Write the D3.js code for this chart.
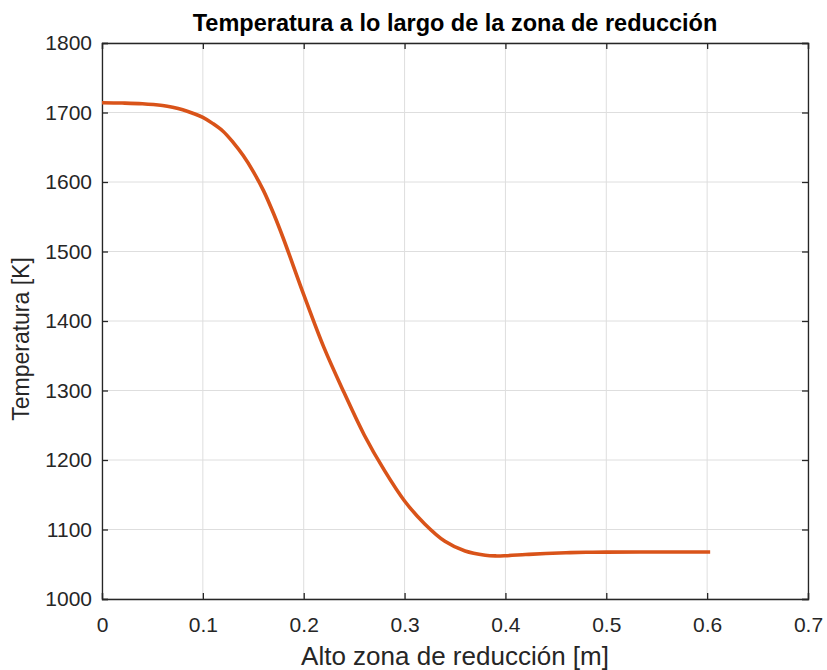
<!DOCTYPE html>
<html>
<head>
<meta charset="utf-8">
<script src="https://cdn.jsdelivr.net/npm/d3@7"></script>
<style>
	body { margin: 0; background: #fff; }
	svg { display: block; font-family: "Liberation Sans", Arial, sans-serif; }
</style>
</head>
<body>
<div class="container"></div>
<script>
	"use strict";

	// height along the reduction zone [m]
	var aAlto = [0, 0.02, 0.04, 0.06, 0.07, 0.08, 0.09, 0.1, 0.11, 0.12, 0.13, 0.14, 0.15, 0.16, 0.17,
		0.18, 0.2, 0.22, 0.24, 0.26, 0.28, 0.3, 0.32, 0.34, 0.36, 0.38, 0.39, 0.4, 0.42, 0.44, 0.46,
		0.48, 0.5, 0.55, 0.603];
	// temperature [K]
	var aTemp = [1714, 1713.6, 1712.6, 1710, 1707.5, 1704, 1699, 1693, 1684, 1673, 1657, 1638, 1615, 1588, 1555,
		1518, 1438, 1362, 1297, 1236, 1185, 1141, 1108, 1083, 1069, 1063, 1062, 1062.3, 1064, 1065.5, 1066.5,
		1067.2, 1067.5, 1067.6, 1067.6];

	var aXTicks = [0, 0.1, 0.2, 0.3, 0.4, 0.5, 0.6, 0.7];
	var aYTicks = [1000, 1100, 1200, 1300, 1400, 1500, 1600, 1700, 1800];

	var iWidth = 827;
	var iHeight = 670;
	var oMargin = { top: 43, right: 19, bottom: 71, left: 102 };
	var iInnerW = iWidth - oMargin.left - oMargin.right;
	var iInnerH = iHeight - oMargin.top - oMargin.bottom;
	var sAxisColor = "#262626";

	var oSVG = d3.select(".container")
		.append("svg")
		.attr("width", iWidth)
		.attr("height", iHeight);

	var x = d3.scaleLinear().domain([0, 0.7]).range([0, iInnerW]);
	var y = d3.scaleLinear().domain([1000, 1800]).range([iInnerH, 0]);

	var g = oSVG.append("g")
		.attr("transform", "translate(" + oMargin.left + "," + oMargin.top + ")");

	// grid
	g.append("g")
		.selectAll("line")
		.data(aXTicks)
		.enter()
		.append("line")
		.attr("x1", function(d) { return x(d); })
		.attr("x2", function(d) { return x(d); })
		.attr("y1", 0)
		.attr("y2", iInnerH)
		.attr("stroke", "#dedede")
		.attr("stroke-width", 1);

	g.append("g")
		.selectAll("line")
		.data(aYTicks)
		.enter()
		.append("line")
		.attr("x1", 0)
		.attr("x2", iInnerW)
		.attr("y1", function(d) { return y(d); })
		.attr("y2", function(d) { return y(d); })
		.attr("stroke", "#dedede")
		.attr("stroke-width", 1);

	// axes, ticks pointing inward on all four sides (box on)
	var fmtX = function(d) { return d === 0 ? "0" : d3.format(".1f")(d); };

	var xBottom = g.append("g")
		.attr("transform", "translate(0," + iInnerH + ")")
		.call(d3.axisBottom(x).tickValues(aXTicks).tickFormat(fmtX).tickSize(-6).tickPadding(18));
	var xTop = g.append("g")
		.call(d3.axisTop(x).tickValues(aXTicks).tickFormat("").tickSize(-6));
	var yLeft = g.append("g")
		.call(d3.axisLeft(y).tickValues(aYTicks).tickFormat(d3.format("d")).tickSize(-6).tickPadding(10));
	var yRight = g.append("g")
		.attr("transform", "translate(" + iInnerW + ",0)")
		.call(d3.axisRight(y).tickValues(aYTicks).tickFormat("").tickSize(-6));

	[xBottom, xTop, yLeft, yRight].forEach(function(oAxis) {
		oAxis.select(".domain").attr("stroke", sAxisColor).attr("stroke-width", 1.3);
		oAxis.selectAll(".tick line").attr("stroke", sAxisColor).attr("stroke-width", 1.3);
		oAxis.selectAll(".tick text")
			.attr("fill", sAxisColor)
			.style("font-size", "21px")
			.style("font-family", "'Liberation Sans', Arial, sans-serif");
	});

	// the data line
	var aPoints = aAlto.map(function(d, i) {
		return { x: d, t: aTemp[i] };
	});

	var line = d3.line()
		.x(function(d) { return x(d.x); })
		.y(function(d) { return y(d.t); })
		.curve(d3.curveCatmullRom.alpha(0.5));

	g.append("path")
		.datum(aPoints)
		.attr("d", line)
		.attr("fill", "none")
		.attr("stroke", "#D95319")
		.attr("stroke-width", 3.6)
		.attr("stroke-linecap", "butt")
		.attr("stroke-linejoin", "round");

	// title and labels
	oSVG.append("text")
		.attr("x", oMargin.left + iInnerW / 2)
		.attr("y", 31)
		.attr("text-anchor", "middle")
		.style("font-size", "23.5px")
		.style("font-weight", "bold")
		.style("fill", "#000")
		.text("Temperatura a lo largo de la zona de reducción");

	oSVG.append("text")
		.attr("x", oMargin.left + iInnerW / 2)
		.attr("y", 665)
		.attr("text-anchor", "middle")
		.style("font-size", "26px")
		.style("fill", sAxisColor)
		.text("Alto zona de reducción [m]");

	oSVG.append("text")
		.attr("transform", "translate(29," + (oMargin.top + iInnerH / 2 + 18) + ") rotate(-90)")
		.attr("text-anchor", "middle")
		.style("font-size", "23px")
		.style("fill", sAxisColor)
		.text("Temperatura [K]");
</script>
</body>
</html>
